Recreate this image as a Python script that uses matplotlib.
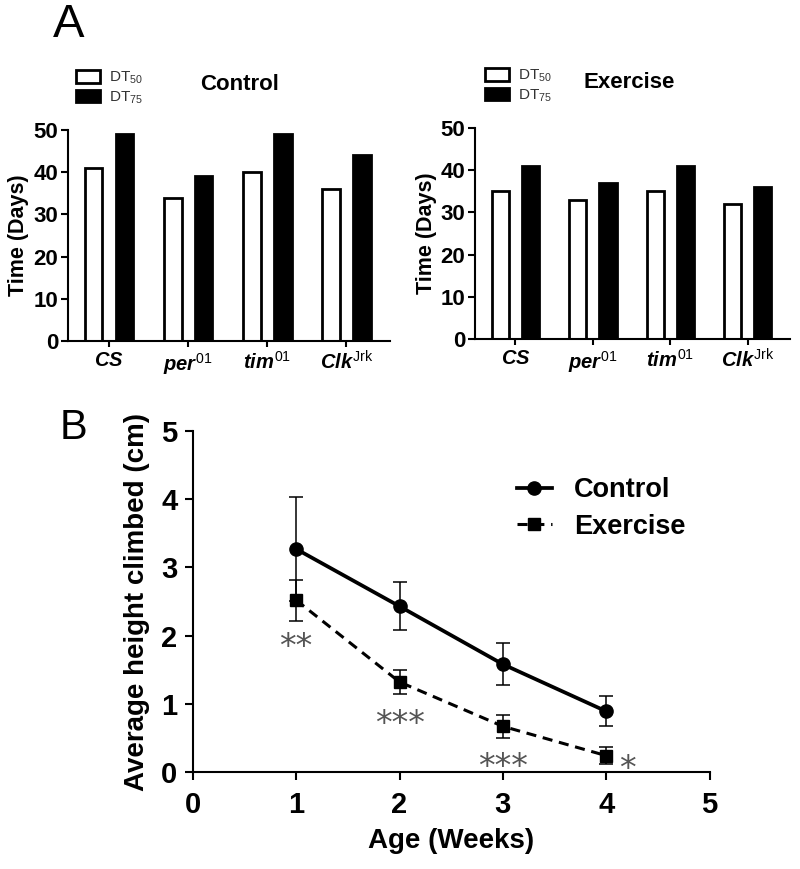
import matplotlib
matplotlib.use("Agg")
import matplotlib.pyplot as plt
from matplotlib.patches import Patch
from matplotlib.lines import Line2D
import numpy as np

plt.rcParams['font.family'] = ['Liberation Sans', 'DejaVu Sans']
plt.rcParams['mathtext.fontset'] = 'custom'
plt.rcParams['mathtext.rm'] = 'Liberation Sans'
plt.rcParams['mathtext.it'] = 'Liberation Sans:italic:bold'
plt.rcParams['mathtext.bf'] = 'Liberation Sans:bold'

# ---- Data ----
genotypes = [r'$CS$', r'$per^{01}$', r'$tim^{01}$', r'$Clk^{\mathrm{Jrk}}$']
control_dt50 = [41, 34, 40, 36]
control_dt75 = [49, 39, 49, 44]
exercise_dt50 = [35, 33, 35, 32]
exercise_dt75 = [41, 37, 41, 36]

weeks = [1, 2, 3, 4]
control_mean = [3.27, 2.43, 1.58, 0.89]
control_err = [0.76, 0.35, 0.31, 0.22]
exercise_mean = [2.52, 1.32, 0.67, 0.24]
exercise_err = [0.30, 0.18, 0.17, 0.12]
sig_labels = ['**', '***', '***', '*']
sig_x = [1.0, 2.0, 3.0, 4.2]
sig_y = [1.83, 0.70, 0.07, 0.03]

fig = plt.figure(figsize=(8, 8.69), dpi=100)


def bar_panel(rect, dt50, dt75, title, title_x, leg_x):
    ax = fig.add_axes(rect)
    x = np.arange(len(genotypes))
    w = 0.22
    off = 0.195
    ax.bar(x - off, dt50, width=w, color='white', edgecolor='black', linewidth=2)
    ax.bar(x + off, dt75, width=w, color='black', edgecolor='black', linewidth=2)
    ax.set_xlim(-0.52, 3.55)
    ax.set_ylim(0, 50)
    ax.set_yticks([0, 10, 20, 30, 40, 50])
    ax.set_xticks(x)
    ax.set_xticklabels(genotypes, fontsize=14.5)
    for lab in ax.get_yticklabels():
        lab.set_fontweight('bold')
        lab.set_fontsize(16)
    ax.set_ylabel('Time (Days)', fontsize=15.5, fontweight='bold', labelpad=3)
    ax.spines['top'].set_visible(False)
    ax.spines['right'].set_visible(False)
    ax.spines['left'].set_linewidth(1.5)
    ax.spines['bottom'].set_linewidth(1.5)
    ax.tick_params(axis='y', direction='out', width=1.5, length=5, pad=2)
    ax.tick_params(axis='x', direction='out', width=1.5, length=4, pad=3)
    handles = [Patch(facecolor='white', edgecolor='black', linewidth=2),
               Patch(facecolor='black', edgecolor='black', linewidth=2)]
    leg = ax.legend(handles, ['DT$_{50}$', 'DT$_{75}$'], loc='upper left',
                    bbox_to_anchor=(leg_x, 1.285), frameon=False, fontsize=11,
                    handlelength=1.55, handleheight=0.85, labelspacing=0.2,
                    handletextpad=0.6, borderpad=0.0, borderaxespad=0.0)
    for t in leg.get_texts():
        t.set_color('#333333')
    ax.text(title_x, 1.215, title, transform=ax.transAxes, fontsize=16,
            fontweight='bold', ha='center', va='center')
    return ax


axA1 = bar_panel([0.085, 0.6076, 0.4025, 0.2428], control_dt50, control_dt75,
                 'Control', 0.534, 0.025)
axA2 = bar_panel([0.594, 0.6099, 0.394, 0.2428], exercise_dt50, exercise_dt75,
                 'Exercise', 0.489, 0.032)

fig.text(0.066, 0.971, 'A', fontsize=34, ha='left', va='center')
fig.text(0.074, 0.5075, 'B', fontsize=30, ha='left', va='center')

# ---- Panel B ----
axB = fig.add_axes([0.241, 0.1116, 0.646, 0.3924])
dash = (0, (3.3, 2.2))
axB.errorbar(weeks, control_mean, yerr=control_err, color='black', linewidth=2.7,
             marker='o', markersize=9.5, capsize=4.7, elinewidth=1.1, capthick=1.1,
             label='Control', zorder=3)
axB.errorbar(weeks, exercise_mean, yerr=exercise_err, color='black', linewidth=2.2,
             linestyle=dash, marker='s', markersize=9, capsize=4.7,
             elinewidth=1.1, capthick=1.1, label='Exercise', zorder=3)
for lab, xs, ys in zip(sig_labels, sig_x, sig_y):
    axB.text(xs, ys, lab, fontsize=24, color='#555555', ha='center', va='center',
             family='DejaVu Sans')
axB.set_xlim(0, 5)
axB.set_ylim(0, 5)
axB.set_xticks([0, 1, 2, 3, 4, 5])
axB.set_yticks([0, 1, 2, 3, 4, 5])
for lab in axB.get_xticklabels() + axB.get_yticklabels():
    lab.set_fontweight('bold')
    lab.set_fontsize(21)
axB.set_xlabel('Age (Weeks)', fontsize=20, fontweight='bold', labelpad=6)
axB.set_ylabel('Average height climbed (cm)', fontsize=20, fontweight='bold', labelpad=8)
axB.spines['top'].set_visible(False)
axB.spines['right'].set_visible(False)
axB.spines['left'].set_linewidth(1.5)
axB.spines['bottom'].set_linewidth(1.5)
axB.tick_params(axis='x', direction='out', width=1.5, length=6, pad=8)
axB.tick_params(axis='y', direction='out', width=1.5, length=6, pad=5)

hC = Line2D([], [], color='black', linewidth=2.7, marker='o', markersize=9.5)
hE = Line2D([], [], color='black', linewidth=2.2, linestyle=dash,
            marker='s', markersize=9)
axB.legend([hC, hE], ['Control', 'Exercise'], loc='upper left',
           bbox_to_anchor=(0.627, 0.865), frameon=False,
           handlelength=1.3, handletextpad=0.8, labelspacing=0.4,
           borderpad=0.0, borderaxespad=0.0,
           prop={'weight': 'bold', 'size': 19.5})

fig.savefig('out.png', dpi=100)
